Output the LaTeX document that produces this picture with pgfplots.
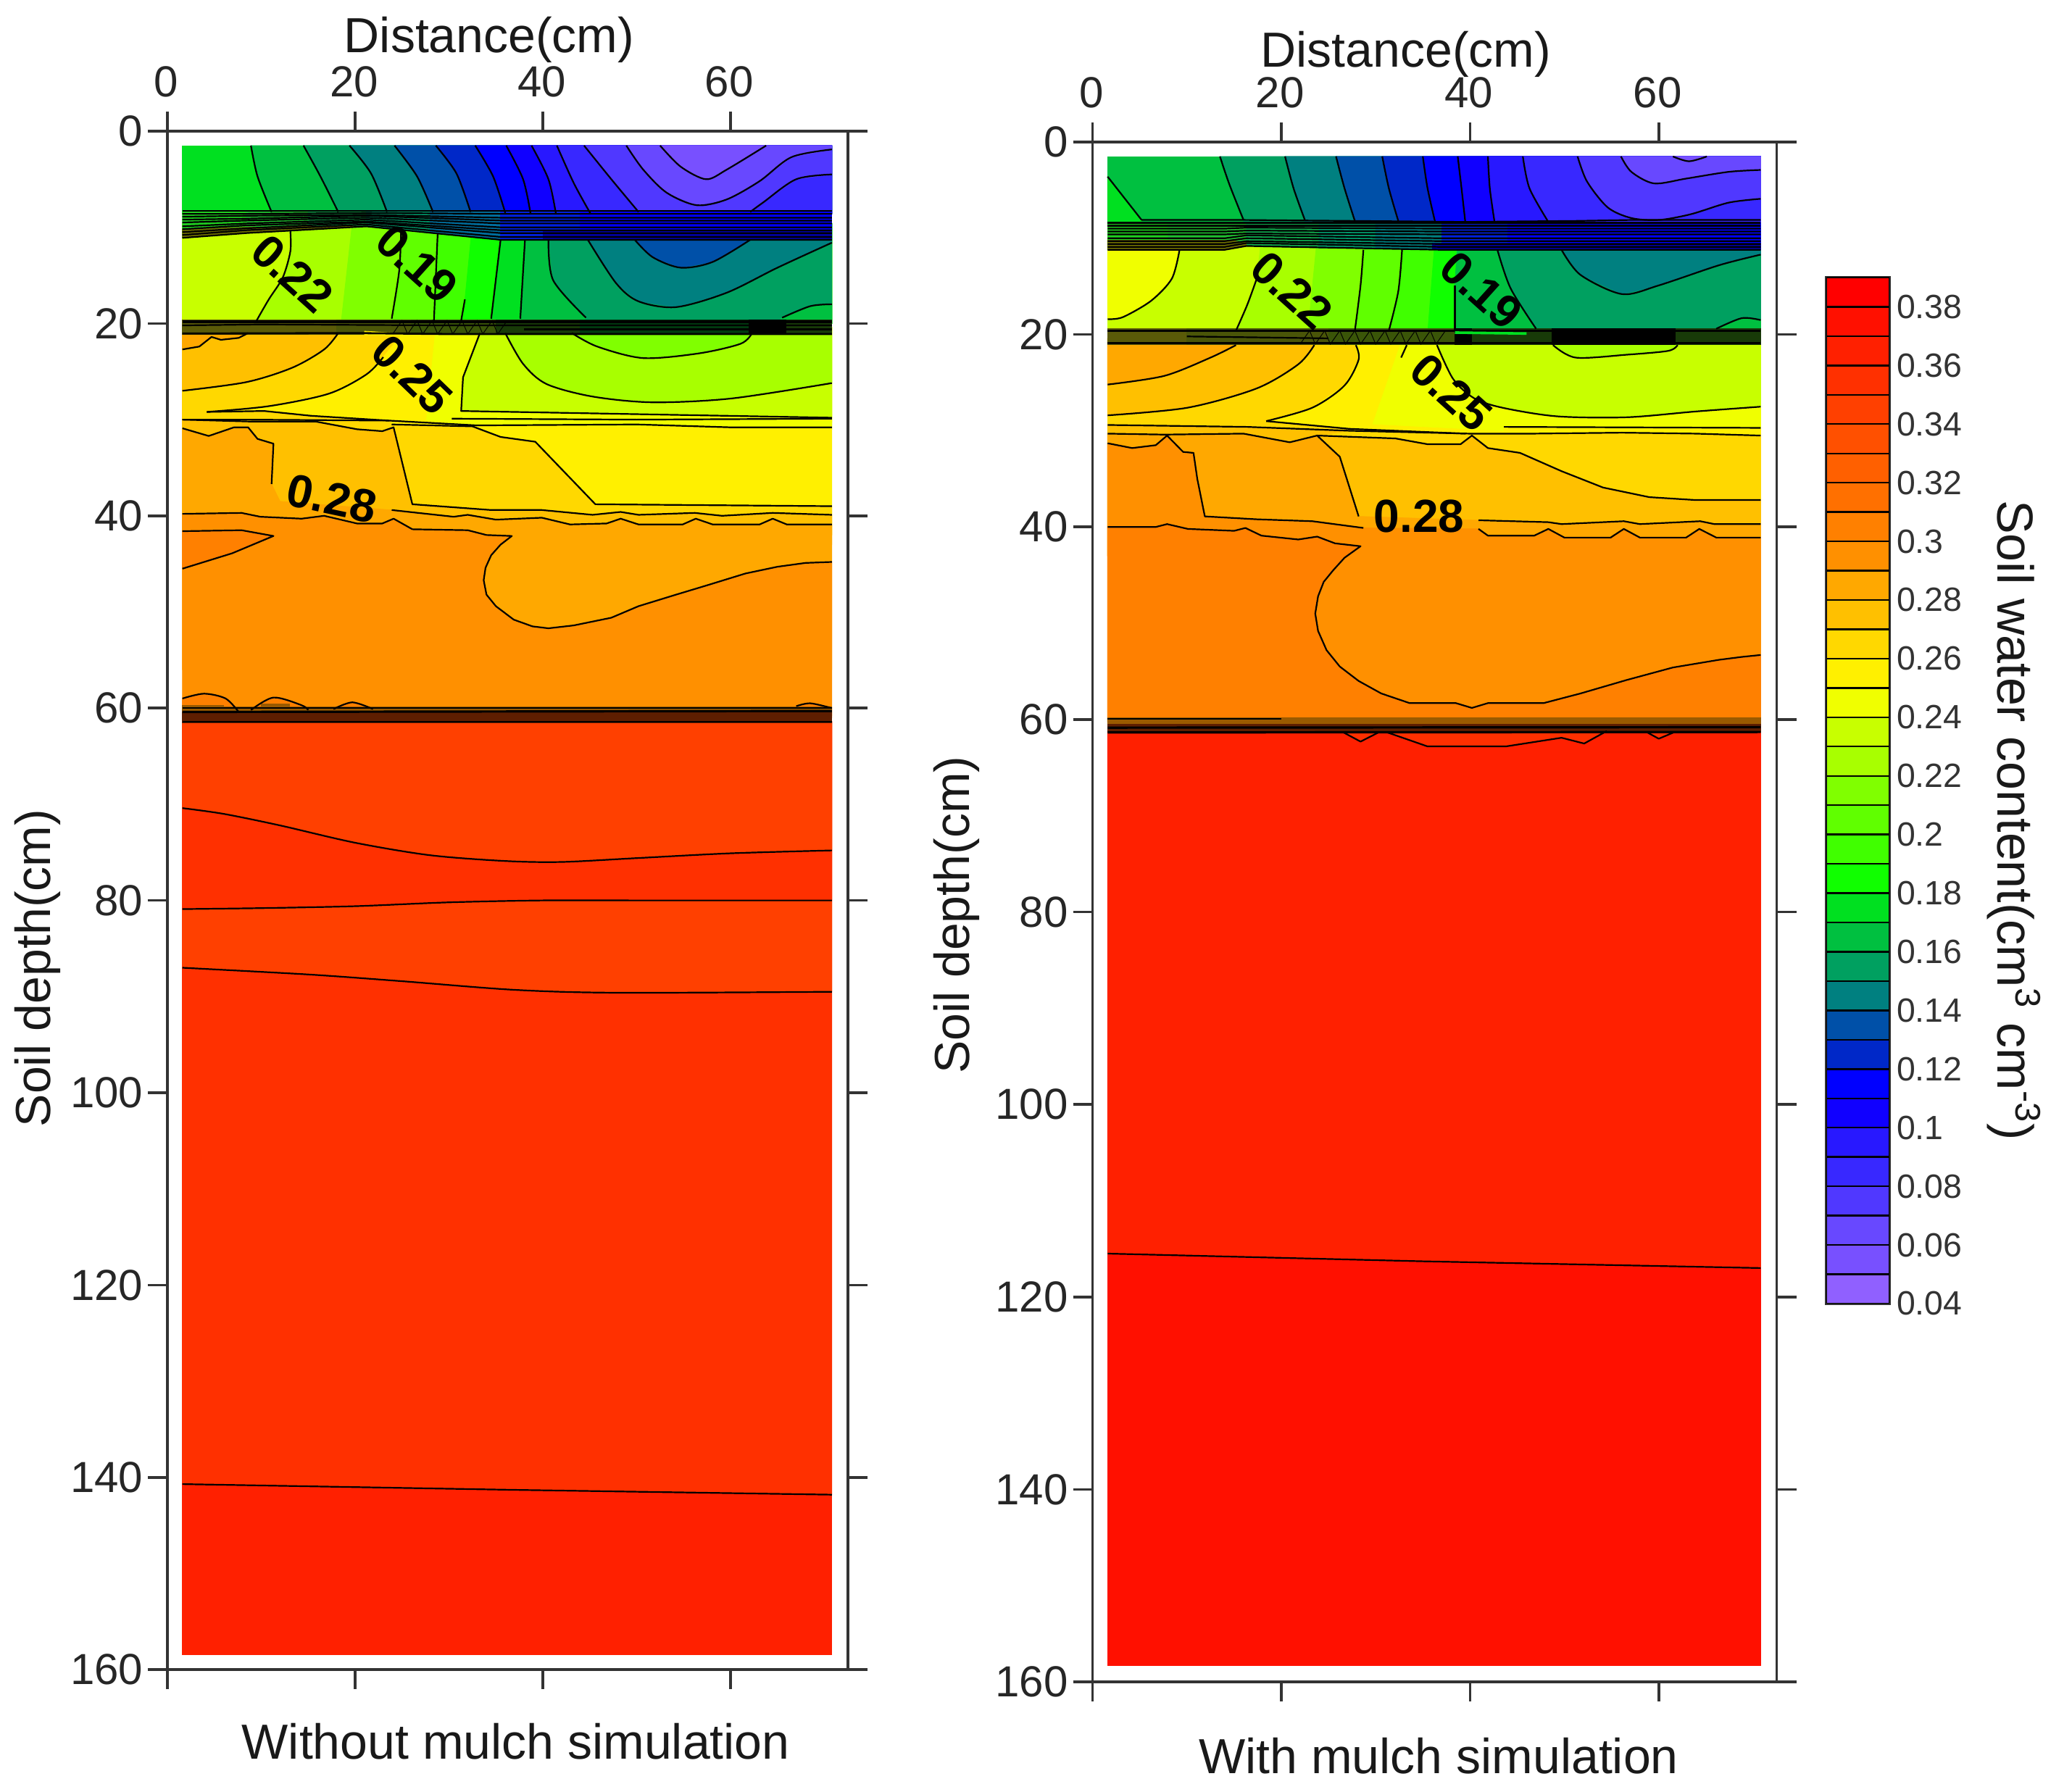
\documentclass[border=0pt]{standalone}
\usepackage{fontspec}
\setmainfont{Liberation Sans}
\usepackage{pgfplots}
\pgfplotsset{compat=1.18}

% filled band colours, named by lower bound of the class
\definecolor{ax}{HTML}{333333}
\definecolor{c38}{HTML}{FF0000}\definecolor{c37}{HTML}{FF1000}\definecolor{c36}{HTML}{FF2000}
\definecolor{c35}{HTML}{FF3000}\definecolor{c34}{HTML}{FF4000}\definecolor{c33}{HTML}{FF5000}
\definecolor{c32}{HTML}{FF6000}\definecolor{c31}{HTML}{FF7000}\definecolor{c30}{HTML}{FF8000}
\definecolor{c29}{HTML}{FF9000}\definecolor{c28}{HTML}{FFA800}\definecolor{c27}{HTML}{FFC000}
\definecolor{c26}{HTML}{FFD800}\definecolor{c25}{HTML}{FFF000}\definecolor{c24}{HTML}{F0FF00}
\definecolor{c23}{HTML}{C8FF00}\definecolor{c22}{HTML}{A8FF00}\definecolor{c21}{HTML}{80FF00}
\definecolor{c20}{HTML}{60FF00}\definecolor{c19}{HTML}{40FF00}\definecolor{c18}{HTML}{10FF00}
\definecolor{c17}{HTML}{00E020}\definecolor{c16}{HTML}{00C040}\definecolor{c15}{HTML}{00A060}
\definecolor{c14}{HTML}{008080}\definecolor{c13}{HTML}{0050A8}\definecolor{c12}{HTML}{0028C8}
\definecolor{c11}{HTML}{0000FF}\definecolor{c10}{HTML}{1000FF}\definecolor{c09}{HTML}{2818FF}
\definecolor{c08}{HTML}{3828FF}\definecolor{c07}{HTML}{5038FF}\definecolor{c06}{HTML}{6848FF}
\definecolor{c05}{HTML}{7850FF}\definecolor{c04}{HTML}{9060FF}
% the squeezed bands
\definecolor{ga}{HTML}{20D020}\definecolor{gb}{HTML}{20C030}\definecolor{gc}{HTML}{10B050}
\definecolor{gd}{HTML}{00A070}\definecolor{ge}{HTML}{0070A0}\definecolor{gf}{HTML}{0020E0}
\definecolor{gg}{HTML}{0000A0}\definecolor{ol}{HTML}{707000}
\definecolor{da}{HTML}{5A5A08}\definecolor{db}{HTML}{4A5508}\definecolor{dc}{HTML}{3A5508}
\definecolor{dd}{HTML}{183A08}\definecolor{de}{HTML}{003A10}\definecolor{df}{HTML}{000000}
\definecolor{ba}{HTML}{9A5A00}\definecolor{bb}{HTML}{5E1E00}

\newcommand\reg[2]{\edef\tmp{\noexpand\addplot[fill=#1,draw=#1,line width=.2pt] coordinates {#2} --cycle;}\tmp}
\newcommand\ctr[1]{\edef\tmp{\noexpand\addplot[cl] coordinates {#1};}\tmp}
\newcommand\cts[1]{\edef\tmp{\noexpand\addplot[cl,smooth,tension=.5] coordinates {#1};}\tmp}
\newcommand\cb[3]{\addplot[fill=#3,draw=black,line width=.6pt] coordinates {(0,#1)(1,#1)(1,#2)(0,#2)} --cycle;}
\newcommand\lab[4]{\node[rotate=#4,font=\fontsize{16}{18}\selectfont\bfseries,inner sep=0pt] at (axis cs:#1,#2) {#3};}

% ---- without mulch: contours (distance, depth)
\def\pAa{(8.9,1.5)(9.6,4.7)(11.1,8.4)}
\def\pAb{(14.5,1.5)(16.3,4.7)(18.2,8.4)}
\def\pAc{(19.4,1.5)(21.7,4.4)(23.4,8.4)}
\def\pAd{(24.2,1.5)(26.6,4.7)(28.3,8.4)}
\def\pAe{(28.6,1.5)(30.8,4.4)(32.3,8.4)}
\def\pAf{(32.8,1.5)(34.7,4.7)(36,8.5)}
\def\pAg{(36.1,1.5)(37.9,5)(38.7,8.6)}
\def\pAh{(38.8,1.5)(40.6,5)(41.4,8.6)}
\def\pAi{(41.5,1.5)(43.3,5.4)(45.1,8.6)}
\def\pAj{(44.4,1.5)(47.3,5)(50.2,8.4)}
\def\pAk{(48.9,1.5)(50.7,4)(53.2,6.4)(56.4,7.7)(59.6,7.1)(63.1,5.2)(66.5,2.7)(70.8,1.9)}
\def\pAl{(52.5,1.5)(54.7,3.7)(57.4,5)(59.6,4)(63.8,1.5)}
\def\pAm{(62.1,8.4)(63.5,7.4)(67,5)(70.8,4.5)}
\def\pBa{(13.1,10.4)(13.1,12.5)(12.3,15.2)(10.8,17.5)(9.5,19.7)}
\def\pBc{(24.9,10.3)(24.7,14.5)(23.9,19.5)}
\def\pBd{(28.8,10.6)(28.4,19.7)}
\def\pBe{(31.7,17.5)(31.3,19.7)}
\def\pBf{(35.5,11.3)(34.5,19.5)}
\def\pBg{(38.1,11.3)(37.6,19.5)}
\def\pBh{(40.6,11.3)(41.1,15.5)(44.6,19.4)}
\def\pBi{(44.8,11.3)(47.8,15.8)(50.2,17.7)(54.2,18.3)(59.6,16.8)(65,14.2)(70.8,11.6)}
\def\pBj{(49.8,11.3)(51.7,13.1)(54.7,14.2)(58.1,13.6)(62.1,11.3)}
\def\pBk{(70.8,18)(68.5,18.2)(65.5,19.4)}
\def\pCl{(1.6,22.7)(3.4,22.4)(4.7,21.4)(5.7,21.7)(7.6,21.5)(8.6,21)}
\def\pCm{(1.6,27)(8.4,26.1)(13.3,24.6)(16.7,22.7)(18.2,21)}
\def\pCn{(4.2,29.2)(10.8,28.6)(17.2,27.3)(21.2,25.3)(23,23.5)}
\def\pCp{(33.3,21)(31.5,25.6)(31.3,29.1)(70.8,29.8)}
\def\pCq{(36,21)(37.9,24.2)(40.4,26.3)(45.3,27.6)(51.7,28.2)(60.1,27.8)(70.8,26.2)}
\def\pCr{(43.1,21)(45.8,22.4)(50.7,23.6)(56.7,23.1)(61.1,22.1)(62.3,21)}
\def\pDt{(1.6,30)(8.4,30)(23.6,30.1)(33,30.6)(50,30.5)(60,30.8)(70.8,30.8)}
\def\pDu{(30.3,29.9)(50,30)(70.8,29.9)}
\def\pDv{(23.6,30.1)(15.3,29.6)(10.3,29.1)(4.2,29.2)}
\def\pDa{(1.6,30)(8.9,30.2)(15.8,30.2)(20.2,31)(22.9,31.2)(24.1,30.8)(26.1,38.8)(34.5,39.4)(39.9,39.4)(45.3,39.9)(48.3,39.6)(50.2,39.9)(56.2,39.7)(59.1,40)(64.5,39.7)(70.8,39.9)}
\def\pDb{(1.6,30.9)(4.4,31.7)(7.1,30.8)(8.6,30.8)(9.6,32)(11.3,32.5)(11.1,36.7)}
\def\pDc{(23.9,39.4)(30.5,40.1)(32,39.9)(35,40.4)(39.9,40.2)(42.9,40.9)(46.8,40.8)(48.3,40.3)(50.2,40.9)(54.9,40.9)(56.3,40.3)(58.1,40.9)(63.1,40.9)(64.5,40.3)(66,40.9)(70.8,40.9)}
\def\pDd{(23.9,30.5)(32.5,30.7)(35.5,31.8)(39.2,32.3)(45.6,38.8)(70.8,39)}
\def\pEa{(1.6,39.8)(7.9,39.7)(9.9,40.1)(14.3,40.3)(16.7,40)(20.2,40.8)(22.9,40.8)(24.1,40.3)(26.1,41.4)(32,41.5)(34,42)(36.7,42.1)(35.5,43)(34.5,44.1)(33.9,45.4)(33.7,46.7)(34,48.2)(35,49.4)(36.9,50.8)(38.9,51.5)(40.6,51.7)(43.3,51.4)(47.3,50.6)(50.2,49.4)(54.2,48.2)(57.6,47.2)(61.6,46)(65,45.3)(68,44.9)(70.8,44.8)}
\def\pEb{(1.6,41.6)(7.9,41.5)(11.3,42.1)(6.9,43.9)(1.6,45.5)}
\def\pFa{(1.6,59)(3.9,58.5)(6.2,59)(7.6,60.4)}
\def\pFb{(8.9,60.2)(11.3,58.9)(14.3,59.7)(15,60.2)}
\def\pFc{(17.7,60.1)(19.7,59.4)(21.9,60.1)}
\def\pFd{(67,59.8)(68.5,59.5)(70.8,60)}
\def\pGa{(1.6,70.4)(6,71)(12,72.2)(20,74)(28,75.3)(36,75.9)(42,76)(50,75.6)(60,75.1)(70.8,74.8)}
\def\pGb{(1.6,80.9)(10,80.8)(20,80.6)(30,80.2)(40,80)(50,80)(70.8,80)}
\def\pGc{(1.6,87)(15,87.7)(25,88.4)(37,89.3)(48,89.6)(70.8,89.5)}
\def\pGd{(1.6,140.7)(37,141.3)(70.8,141.8)}

% ---- with mulch: contours
\def\qAa{(1.6,3.6)(3.2,5.6)(5.2,8.1)}
\def\qAb{(13.5,1.5)(14.5,4.4)(16,8.1)}
\def\qAc{(20.4,1.5)(21.3,4.8)(22.5,8.1)}
\def\qAd{(25.8,1.5)(26.7,4.8)(27.8,8.2)}
\def\qAe{(30.7,1.5)(31.4,4.8)(32.4,8.2)}
\def\qAf{(35,1.5)(35.5,4.8)(36.3,8.3)}
\def\qAg{(38.7,1.5)(39.1,4.8)(39.5,8.3)}
\def\qAh{(41.9,1.5)(42.1,4.8)(42.6,8.3)}
\def\qAi{(45.6,1.5)(46.3,4.8)(48.3,8.3)}
\def\qAj{(51.4,1.5)(52.4,4.1)(54.6,6.8)(57.1,7.9)(60,8.1)(63.4,7.5)(67.4,6.3)(70.8,5.9)}
\def\qAk{(56,1.5)(57.1,3.1)(59.5,4.3)(62.9,3.8)(67.4,3.1)(70.8,2.9)}
\def\qAl{(61.5,1.5)(63.2,2)(65.1,1.5)}
\def\qBa{(1.6,18.4)(3.2,18.2)(6.2,16.5)(8.4,14.2)(9.2,11.3)}
\def\qBb{(17.4,14.2)(16.4,16.9)(15.2,19.6)}
\def\qBd{(28.7,11.2)(28.4,14.9)(27.8,19.6)}
\def\qBe{(32.8,11.2)(32.4,15.5)(31.4,19.6)}
\def\qBg{(38.4,14.9)(38.4,19.6)}
\def\qBh{(42.9,11.2)(44.3,15.2)(47,19.4)}
\def\qBi{(49.7,11.2)(51.7,13.8)(56.1,15.8)(60,14.9)(66.4,12.8)(70.8,11.7)}
\def\qBj{(70.8,18.5)(68.8,18.3)(66.1,19.4)}
\def\qCa{(1.6,25.2)(7.6,24.3)(12.5,22.4)(15.2,21.1)}
\def\qCb{(1.6,28.4)(10.1,27.6)(17.4,25.6)(21.8,23.1)(23.5,21.1)}
\def\qCc{(18.4,29)(23.3,27.6)(26.7,25.3)(28.2,22.6)(27.9,21.1)}
\def\qCd{(33.3,21.1)(32.7,22.4)}
\def\qCe{(36.5,21.1)(38.2,24.6)(40.4,26.6)(43.4,27.6)(49.2,28.5)(56.6,28.6)(63.9,28)(70.8,27.5)}
\def\qCf{(48.8,21.1)(51.2,22.4)(56.6,22.1)(61,21.7)(62,21.1)}
\def\qDa{(43.6,29.6)(70.8,29.7)}
\def\qDb{(1.6,29.4)(16.4,29.6)(27.2,30)(39.9,30.3)(46.8,30.3)(56.1,30.2)(63.9,30.3)(70.8,30.5)}
\def\qDc{(18.4,29)(27.2,29.8)(39.5,30.3)}
\def\qDd{(1.6,30.3)(7.6,30.4)(16,30.3)(20.9,31.2)(23.8,30.5)(26.2,32.7)(28.2,38.9)}
\def\qDe{(23.8,30.5)(32.1,30.8)(35.5,31.4)(39,31.4)(40.2,30.5)(41.9,31.8)(45.3,32.3)(49.7,34.2)(54.1,35.9)(59,36.9)(63.9,37.2)(70.8,37.2)}
\def\qDf{(1.6,31.3)(4.2,31.8)(6.7,31.5)(7.9,30.5)(9.6,32.2)(10.7,32.3)(11.1,35)(11.9,38.9)(17.4,39.2)(23.3,39.4)(28.7,40.1)}
\def\qDg{(40.9,39.3)(48.3,39.5)(49.7,39.7)(56.3,39.4)(58,39.7)(64.4,39.4)(65.9,39.7)(70.8,39.7)}
\def\qDh{(40.9,40.2)(41.9,40.9)(46.8,40.9)(48.3,40.2)(50,41.1)(54.9,41.1)(56.3,40.2)(58,41.1)(62.9,41.1)(64.3,40.2)(66.1,41.1)(70.8,41.1)}
\def\qEa{(1.6,40)(6.7,40)(7.9,39.7)(10.1,40.2)(15,40.4)(16.2,40.1)(17.9,40.9)(21.8,41.3)(23.8,41)(25.7,41.7)(28.4,42)(26.7,43.2)(25.5,44.5)(24.5,45.7)(23.9,47.2)(23.6,49)(23.9,50.8)(24.8,52.8)(26.2,54.5)(28.2,56)(30.6,57.3)(33.6,58.3)(38.5,58.3)(40.2,58.8)(41.9,58.3)(47.8,58.3)(51.7,57.3)(56.6,55.9)(61.5,54.6)(66.4,53.8)(68.8,53.5)(70.8,53.3)}
\def\qFa{(26.5,61.3)(28.4,62.3)(30.4,61.3)}
\def\qFb{(31.1,61.3)(35.5,62.8)(43.8,62.8)(49.7,61.9)(52.1,62.5)(54.5,61.2)}
\def\qFc{(58.7,61.3)(60,62)(61.7,61.3)}
\def\qGa{(1.6,115.5)(35,116.3)(70.8,117)}

\pgfplotsset{
  cl/.style={draw=black,line width=.55pt,line join=round,forget plot},
  tl/.style={draw=black,line width=.55pt,forget plot},
  panel/.style={
    scale only axis, clip=true,
    xmin=0, xmax=72.5, ymin=0, ymax=160, y dir=reverse,
    xtick={0,20,40,60}, ytick={0,20,...,160},
    xtick pos=both, ytick pos=both,
    xticklabel pos=upper, yticklabel pos=left,
    tick align=outside, major tick length=6.75pt,
    axis line style={color=ax,line width=.9pt},
    every tick/.style={color=ax,line width=.9pt},
    ticklabel style={font=\fontsize{15}{18}\selectfont,text=black!85,inner sep=1.5pt},
    xticklabel style={yshift=3.2pt,xshift=-.4pt},
    /pgf/number format/assume math mode=true,
    label style={font=\fontsize{17}{20}\selectfont,text=black!90},
    title style={font=\fontsize{17}{20}\selectfont,text=black!90,anchor=base},
  },
}

\begin{document}
\begin{tikzpicture}
\path[use as bounding box] (0,0) rectangle (707.5pt,618.25pt);

% ===== without mulch
\begin{axis}[panel, at={(57.75pt,573pt)}, anchor=north west, width=234.7pt, height=530.8pt,
  xlabel={Distance(cm)}, xlabel style={at={(axis description cs:.473,1.0513)},anchor=base},
  ylabel={Soil depth(cm)}, ylabel style={at={(axis description cs:-.1725,.456)},anchor=base},
  title={Without mulch simulation}, title style={at={(axis description cs:.512,-.0695)}}]
% surface layer
\reg{c17}{(1.6,1.5)(70.8,1.5)(70.8,8.6)(1.6,8.6)}
\reg{c16}{\pAa(70.8,8.6)(70.8,1.5)}
\reg{c15}{\pAb(70.8,8.6)(70.8,1.5)}
\reg{c14}{\pAc(70.8,8.6)(70.8,1.5)}
\reg{c13}{\pAd(70.8,8.6)(70.8,1.5)}
\reg{c12}{\pAe(70.8,8.6)(70.8,1.5)}
\reg{c11}{\pAf(70.8,8.6)(70.8,1.5)}
\reg{c10}{\pAg(70.8,8.6)(70.8,1.5)}
\reg{c09}{\pAh(70.8,8.6)(70.8,1.5)}
\reg{c08}{\pAi(70.8,8.6)(70.8,1.5)}
\reg{c07}{\pAj\pAm(70.8,1.5)}
\reg{c06}{\pAk(70.8,1.5)}
\reg{c05}{\pAl}
% second layer
\reg{c23}{(1.6,9.6)(70.8,9.6)(70.8,20)(1.6,20)}
\reg{c22}{(13.1,9.6)\pBa(9.5,20)(70.8,20)(70.8,9.6)}
\reg{c21}{(19.7,9.6)(18.5,20)(70.8,20)(70.8,9.6)}
\reg{c20}{(24.9,9.6)\pBc(23.9,20)(70.8,20)(70.8,9.6)}
\reg{c19}{(28.8,9.6)\pBd(28.4,20)(70.8,20)(70.8,9.6)}
\reg{c18}{(32.5,9.6)(31.7,17.5)\pBe(31.3,20)(70.8,20)(70.8,9.6)}
\reg{c17}{(35.5,9.6)\pBf(34.5,20)(70.8,20)(70.8,9.6)}
\reg{c16}{(38.1,9.6)\pBg(37.6,20)(70.8,20)(70.8,9.6)}
\reg{c15}{(40.6,9.6)\pBh(44.6,20)(70.8,20)(70.8,9.6)}
\reg{c14}{(44.8,9.6)\pBi(70.8,9.6)}
\reg{c13}{(49.8,9.6)\pBj(62.1,9.6)}
\reg{c16}{\pBk(65,20)(70.8,20)}
% third layer
\reg{c27}{(1.6,20.4)(70.8,20.4)(70.8,31)(1.6,31)}
\reg{c28}{(1.6,20.4)\pCl(8.6,20.4)}
\reg{c26}{\pCm(18.2,20.4)(70.8,20.4)(70.8,31)(1.6,31)}
\reg{c25}{\pCn(25.1,21)(25.1,20.4)(70.8,20.4)(70.8,30.3)(33,30.6)\pDv}
\reg{c24}{(28.6,20.4)(27.6,30.1)(33,30.6)(70.8,30.8)(70.8,20.4)}
\reg{c23}{(33.3,20.4)\pCp(70.8,20.4)}
\reg{c22}{(36,20.4)\pCq(70.8,20.4)}
\reg{c21}{\pCr}
% fourth layer
\reg{c25}{(23.9,30.3)(33,30.6)(70.8,30.8)(70.8,42)(23.9,42)}
\reg{c26}{(1.6,30)(8.4,30)(23.6,30.1)\pDd(70.8,42)(1.6,42)}
\reg{c27}{\pDa(70.8,43)(1.6,43)}
\reg{c28}{\pDb(12,38.5)\pDc(70.8,56)(1.6,56)}
\reg{c29}{\pEa(70.8,60.8)(1.6,60.8)}
\reg{c30}{\pEb}
\reg{c30}{\pFa(7.6,61)(1.6,61)}
\reg{c30}{\pFb(15,61)(8.9,61)}
\reg{c30}{\pFc(21.9,61)(17.7,61)}
\reg{c30}{\pFd(70.8,61)(67,61)}
% deep soil
\reg{c36}{(1.6,61.4)(70.8,61.4)(70.8,158.4)(1.6,158.4)}
\reg{c35}{(1.6,61.4)\pGd(70.8,61.4)}
\reg{c34}{(1.6,61.4)\pGc(70.8,61.4)}
\reg{c35}{(1.6,61.4)\pGb(70.8,61.4)}
\reg{c34}{(1.6,61.4)\pGa(70.8,61.4)}
% squeezed band near 10 cm
\reg{ga}{(1.6,8.3)(8.4,8.3)(8.4,10.6)(1.6,11.1)}
\reg{gb}{(8.4,8.3)(15,8.3)(15,10.25)(8.4,10.6)}
\reg{gc}{(15,8.3)(21.2,8.3)(21.2,9.9)(15,10.25)}
\reg{gd}{(21.2,8.3)(28,8.3)(28,10.6)(21.2,9.9)}
\reg{ge}{(28,8.3)(35.5,8.3)(35.5,11.3)(28,10.6)}
\reg{gf}{(35.5,8.3)(44,8.3)(44,11.3)(35.5,11.3)}
\reg{c11}{(44,8.3)(70.8,8.3)(70.8,11.3)(44,11.3)}
\reg{ol}{(1.6,10.2)(8.4,10)(15,9.9)(21.2,9.9)(15,10.25)(8.4,10.6)(1.6,11.1)}
\reg{gg}{(40,10.4)(70.8,10.4)(70.8,11.3)(40,11.3)}
\addplot[tl] coordinates {(1.6,8.3)(8.4,8.3)(21.2,8.3)(35.5,8.3)(70.8,8.3)};
\addplot[tl] coordinates {(1.6,8.6)(8.4,8.6)(21.2,8.5)(35.5,8.6)(70.8,8.6)};
\addplot[tl] coordinates {(1.6,8.9)(8.4,8.8)(21.2,8.7)(35.5,9)(70.8,9)};
\addplot[tl] coordinates {(1.6,9.2)(8.4,9.1)(21.2,8.8)(35.5,9.3)(70.8,9.3)};
\addplot[tl] coordinates {(1.6,9.5)(8.4,9.3)(21.2,9)(35.5,9.6)(70.8,9.6)};
\addplot[tl] coordinates {(1.6,9.9)(8.4,9.6)(21.2,9.2)(35.5,10)(70.8,10)};
\addplot[tl] coordinates {(1.6,10.2)(8.4,9.8)(21.2,9.4)(35.5,10.3)(70.8,10.3)};
\addplot[tl] coordinates {(1.6,10.5)(8.4,10.1)(21.2,9.5)(35.5,10.6)(70.8,10.6)};
\addplot[tl] coordinates {(1.6,10.8)(8.4,10.3)(21.2,9.7)(35.5,11)(70.8,11)};
\addplot[tl] coordinates {(1.6,11.1)(8.4,10.6)(21.2,9.9)(35.5,11.3)(70.8,11.3)};
% squeezed band near 20 cm
\reg{da}{(1.6,19.65)(18,19.65)(18,21.15)(1.6,21.15)}
\reg{db}{(18,19.65)(26,19.65)(26,21.15)(18,21.15)}
\reg{dc}{(26,19.65)(35,19.65)(35,21.15)(26,21.15)}
\reg{dd}{(35,19.65)(44,19.65)(44,21.15)(35,21.15)}
\reg{de}{(44,19.65)(62,19.65)(62,21.15)(44,21.15)}
\reg{df}{(62,19.65)(66,19.65)(66,21.15)(62,21.15)}
\reg{dd}{(66,19.65)(70.8,19.65)(70.8,21.15)(66,21.15)}
\reg{c25}{(21,20.8)(26,21.1)(26,21.3)(21,21.2)}
\addplot[draw=black,line width=.9pt,forget plot] coordinates {(1.6,19.8)(70.8,19.8)};
\addplot[tl] coordinates {(1.6,20.2)(10,20.1)(30,20.2)(70.8,20.2)};
\addplot[draw=black,line width=.7pt,forget plot] coordinates {(38,20.6)(70.8,20.6)};
\addplot[draw=black,line width=.7pt,forget plot] coordinates {(1.6,21.05)(20,21)(30,21.1)(70.8,21.1)};
\addplot[draw=black,line width=.25pt,forget plot] coordinates {(24,21.1)(25,19.7)(25.6,21.1)(26.6,19.7)(27.2,21.1)(28.2,19.7)(28.8,21.1)(29.8,19.7)(30.4,21.1)(31.4,19.7)(32,21.1)(33,19.7)(33.6,21.1)(34.6,19.7)(35.2,21.1)(36.2,19.7)};
% squeezed band near 60 cm
\reg{ba}{(1.6,59.9)(70.8,59.9)(70.8,60.4)(1.6,60.4)}
\reg{bb}{(1.6,60.4)(70.8,60.4)(70.8,61.5)(1.6,61.5)}
\reg{ba}{(1.6,59.7)(6,59.7)(6,60.4)(1.6,60.4)}
\reg{ba}{(10,59.6)(13,59.6)(13,60.4)(10,60.4)}
\addplot[draw=black,line width=.8pt,forget plot] coordinates {(1.6,60.4)(70.8,60.3)};
\addplot[tl] coordinates {(1.6,60)(70.8,60)};
\addplot[tl] coordinates {(1.6,61.4)(70.8,61.4)};
% contours
\cts{\pAa}\cts{\pAb}\cts{\pAc}\cts{\pAd}\cts{\pAe}\cts{\pAf}\cts{\pAg}\cts{\pAh}\cts{\pAi}\cts{\pAj}\cts{\pAk}\cts{\pAl}\cts{\pAm}
\cts{\pBa}\cts{\pBc}\ctr{\pBd}\ctr{\pBe}\ctr{\pBf}\ctr{\pBg}\cts{\pBh}\cts{\pBi}\cts{\pBj}\cts{\pBk}
\ctr{\pCl}\cts{\pCm}\cts{\pCn}\ctr{\pCp}\cts{\pCq}\cts{\pCr}
\ctr{\pDt}\ctr{\pDu}\ctr{\pDv}\ctr{\pDa}\ctr{\pDb}\ctr{\pDc}\ctr{\pDd}
\ctr{\pEa}\ctr{\pEb}\cts{\pFa}\cts{\pFb}\cts{\pFc}\cts{\pFd}
\cts{\pGa}\cts{\pGb}\cts{\pGc}\ctr{\pGd}
\lab{13.3}{14.8}{0.22}{-42}
\lab{26.6}{13.8}{0.19}{-42}
\lab{26.1}{25.3}{0.25}{-44}
\lab{17.5}{38.2}{0.28}{-12}
\end{axis}

% ===== with mulch
\begin{axis}[panel, at={(376.875pt,569.25pt)}, anchor=north west, width=236pt, height=531.25pt,
  xlabel={Distance(cm)}, xlabel style={at={(axis description cs:.458,1.0489)},anchor=base},
  ylabel={Soil depth(cm)}, ylabel style={at={(axis description cs:-.18,.498)},anchor=base},
  title={With mulch simulation}, title style={at={(axis description cs:.506,-.0706)}}]
% surface layer
\reg{c16}{(1.6,1.5)(70.8,1.5)(70.8,8.6)(1.6,8.6)}
\reg{c17}{(1.6,3.6)(3.2,5.6)(5.2,8.1)(5.2,8.6)(1.6,8.6)}
\reg{c15}{\qAb(16,8.6)(70.8,8.6)(70.8,1.5)}
\reg{c14}{\qAc(22.5,8.6)(70.8,8.6)(70.8,1.5)}
\reg{c13}{\qAd(27.8,8.6)(70.8,8.6)(70.8,1.5)}
\reg{c12}{\qAe(32.4,8.6)(70.8,8.6)(70.8,1.5)}
\reg{c11}{\qAf(36.3,8.6)(70.8,8.6)(70.8,1.5)}
\reg{c10}{\qAg(39.5,8.6)(70.8,8.6)(70.8,1.5)}
\reg{c09}{\qAh(42.6,8.6)(70.8,8.6)(70.8,1.5)}
\reg{c08}{\qAi(48.3,8.6)(70.8,8.6)(70.8,1.5)}
\reg{c07}{\qAj(70.8,1.5)}
\reg{c06}{\qAk(70.8,1.5)}
\reg{c05}{\qAl}
% second layer
\reg{c23}{(1.6,10)(70.8,10)(70.8,20)(1.6,20)}
\reg{c24}{\qBa(9.2,10)(1.6,10)}
\reg{c22}{(17.9,10)(17.4,14.2)(16.4,16.9)(15.2,19.6)(15.2,20)(70.8,20)(70.8,10)}
\reg{c21}{(23.8,10)(22.8,20)(70.8,20)(70.8,10)}
\reg{c20}{(28.7,10)\qBd(27.8,20)(70.8,20)(70.8,10)}
\reg{c19}{(32.8,10)\qBe(31.4,20)(70.8,20)(70.8,10)}
\reg{c18}{(36.3,10)(35.5,20)(70.8,20)(70.8,10)}
\reg{c16}{(38.7,10)(38.4,14.9)(38.4,20)(70.8,20)(70.8,10)}
\reg{c15}{(42.9,10)\qBh(47,20)(70.8,20)(70.8,10)}
\reg{c14}{(49.7,10)\qBi(70.8,10)}
\reg{c16}{\qBj(65,20)(70.8,20)}
% third layer
\reg{c26}{(1.6,20.4)(70.8,20.4)(70.8,31)(1.6,31)}
\reg{c27}{(1.6,20.4)\qCb(23.5,20.4)}
\reg{c28}{(1.6,20.4)\qCa(15.2,20.4)}
\reg{c25}{\qCc(27.9,20.4)(70.8,20.4)(70.8,30.5)(39.5,30.3)(27.2,29.8)}
\reg{c24}{(32.6,20.4)(32.6,21.1)(29.7,29.3)(43.6,30)(70.8,30)(70.8,20.4)}
\reg{c23}{(36.5,20.4)\qCe(70.8,20.4)}
\reg{c22}{\qCf}
\reg{c25}{(43.6,29.6)(70.8,29.7)(70.8,31)(43.6,31)}
% fourth layer
\reg{c26}{(27.2,30)(39.9,30.3)(46.8,30.3)(56.1,30.2)(63.9,30.3)(70.8,30.5)(70.8,43)(27.2,43)}
\reg{c27}{(1.6,29.4)(16.4,29.6)(27.2,30)\qDe(70.8,43)(1.6,43)}
\reg{c28}{\qDd\qDg(70.8,43)(1.6,43)}
\reg{c29}{\qDf\qDh(70.8,60.2)(1.6,60.2)}
\reg{c30}{\qEa(70.8,60.4)(1.6,60.4)}
% deep soil
\reg{c37}{(1.6,61.2)(70.8,61.2)(70.8,158.3)(1.6,158.3)}
\reg{c36}{(1.6,61.2)\qGa(70.8,61.2)}
\reg{c35}{\qFa}
\reg{c35}{\qFb}
\reg{c35}{\qFc}
% squeezed band near 10 cm
\reg{ga}{(1.6,8.4)(8,8.4)(8,11.2)(1.6,11.2)}
\reg{gb}{(8,8.4)(16.3,8.4)(16.3,10.8)(14,11.2)(8,11.2)}
\reg{gc}{(16.3,8.4)(24,8.4)(24,11)(16.3,10.8)}
\reg{gd}{(24,8.4)(30,8.4)(30,11.05)(24,11)}
\reg{c14}{(30,8.4)(37,8.4)(37,11.2)(30,11.05)}
\reg{gf}{(37,8.4)(44,8.4)(44,11.2)(37,11.2)}
\reg{c11}{(44,8.4)(70.8,8.4)(70.8,11.2)(44,11.2)}
\reg{ol}{(1.6,10.2)(14,10.2)(16.3,10.4)(16.3,10.8)(14,11.2)(1.6,11.2)}
\reg{gg}{(36,10.5)(70.8,10.5)(70.8,11.2)(36,11.2)}
\addplot[tl] coordinates {(5.2,8.1)(16,8.1)(27.8,8.2)(39.5,8.3)(51,8.2)(57,8.1)(70.8,8.1)};
\addplot[tl] coordinates {(1.6,8.4)(70.8,8.4)};
\addplot[tl] coordinates {(1.6,8.7)(70.8,8.7)};
\addplot[tl] coordinates {(1.6,9)(14,9)(16.3,8.9)(37,9)(70.8,9)};
\addplot[tl] coordinates {(1.6,9.3)(14,9.3)(16.3,9.2)(37,9.3)(70.8,9.3)};
\addplot[tl] coordinates {(1.6,9.6)(14,9.6)(16.3,9.5)(37,9.6)(70.8,9.6)};
\addplot[tl] coordinates {(1.6,10)(14,10)(16.3,9.7)(37,10)(70.8,10)};
\addplot[tl] coordinates {(1.6,10.3)(14,10.3)(16.3,10)(37,10.3)(70.8,10.3)};
\addplot[tl] coordinates {(1.6,10.6)(14,10.6)(16.3,10.3)(37,10.6)(70.8,10.6)};
\addplot[tl] coordinates {(1.6,10.9)(14,10.9)(16.3,10.5)(37,10.9)(70.8,10.9)};
\addplot[tl] coordinates {(1.6,11.2)(14,11.2)(16.3,10.8)(37,11.2)(70.8,11.2)};
% squeezed band near 20 cm
\reg{da}{(1.6,19.4)(10,19.4)(10,21.05)(1.6,21.05)}
\reg{db}{(10,19.4)(25,19.4)(25,21.05)(10,21.05)}
\reg{dc}{(25,19.4)(38.4,19.4)(38.4,21.05)(25,21.05)}
\reg{df}{(38.4,19.4)(40.2,19.4)(40.2,21.05)(38.4,21.05)}
\reg{dd}{(40.2,19.4)(48.7,19.4)(48.7,21.05)(40.2,21.05)}
\reg{df}{(48.7,19.4)(61.8,19.4)(61.8,21.05)(48.7,21.05)}
\reg{dd}{(61.8,19.4)(70.8,19.4)(70.8,21.05)(61.8,21.05)}
\addplot[draw=black,line width=.7pt,forget plot] coordinates {(1.6,19.6)(25,19.6)(70.8,19.6)};
\addplot[draw=c17,line width=.9pt,forget plot] coordinates {(38.4,19.8)(46,19.9)};
\addplot[tl] coordinates {(1.6,20.9)(70.8,20.9)};
\addplot[tl] coordinates {(10,20.2)(25,20.4)};
\addplot[draw=black,line width=.25pt,forget plot] coordinates {(22,21)(23,19.6)(23.6,21)(24.6,19.6)(25.2,21)(26.2,19.6)(26.8,21)(27.8,19.6)(28.4,21)(29.4,19.6)(30,21)(31,19.6)(31.6,21)(32.6,19.6)(33.2,21)(34.2,19.6)(34.8,21)(35.8,19.6)(36.4,21)(37.4,19.6)};
% squeezed band near 60 cm
\reg{ba}{(1.6,59.8)(70.8,59.8)(70.8,60.7)(1.6,60.7)}
\reg{bb}{(1.6,60.5)(70.8,60.5)(70.8,61.3)(1.6,61.3)}
\addplot[tl] coordinates {(1.6,59.95)(20,59.95)};
\addplot[draw=black,line width=.8pt,forget plot] coordinates {(1.6,60.85)(70.8,60.8)};
\addplot[draw=black,line width=.8pt,forget plot] coordinates {(1.6,61.35)(70.8,61.3)};
% contours
\cts{\qAa}\cts{\qAb}\cts{\qAc}\cts{\qAd}\cts{\qAe}\cts{\qAf}\cts{\qAg}\cts{\qAh}\cts{\qAi}\cts{\qAj}\cts{\qAk}\cts{\qAl}
\cts{\qBa}\cts{\qBb}\cts{\qBd}\cts{\qBe}\ctr{\qBg}\cts{\qBh}\cts{\qBi}\cts{\qBj}
\cts{\qCa}\cts{\qCb}\cts{\qCc}\ctr{\qCd}\cts{\qCe}\cts{\qCf}
\ctr{\qDa}\ctr{\qDb}\ctr{\qDc}\ctr{\qDd}\ctr{\qDe}\ctr{\qDf}\ctr{\qDg}\ctr{\qDh}
\ctr{\qEa}\ctr{\qFa}\ctr{\qFb}\ctr{\qFc}\ctr{\qGa}
\lab{21.1}{15.4}{0.22}{-42}
\lab{41.2}{15.4}{0.19}{-42}
\lab{38}{26}{0.25}{-42}
\lab{34.6}{38.9}{0.28}{0}
\end{axis}

% ===== colour scale
\begin{axis}[scale only axis, at={(630pt,522.5pt)}, anchor=north west, width=21.75pt, height=354pt,
  xmin=0, xmax=1, ymin=0.04, ymax=0.39, xtick=\empty,
  ytick={0.04,0.06,0.08,0.1,0.12,0.14,0.16,0.18,0.2,0.22,0.24,0.26,0.28,0.3,0.32,0.34,0.36,0.38},
  yticklabels={0.04,0.06,0.08,0.1,0.12,0.14,0.16,0.18,0.2,0.22,0.24,0.26,0.28,0.3,0.32,0.34,0.36,0.38},
  yticklabel pos=right, major tick length=0pt,
  axis line style={color=ax,line width=.8pt},
  yticklabel style={font=\fontsize{11.6}{14}\selectfont,text=black!80,inner sep=2.3pt,anchor=west},
  ylabel={Soil water content(cm\textsuperscript{3} cm\textsuperscript{-3})},
  ylabel style={font=\fontsize{17.5}{20}\selectfont,text=black!90,at={(axis description cs:2.97,.471)},rotate=180,anchor=center}]
\cb{0.04}{0.05}{c04}\cb{0.05}{0.06}{c05}\cb{0.06}{0.07}{c06}\cb{0.07}{0.08}{c07}
\cb{0.08}{0.09}{c08}\cb{0.09}{0.10}{c09}\cb{0.10}{0.11}{c10}\cb{0.11}{0.12}{c11}
\cb{0.12}{0.13}{c12}\cb{0.13}{0.14}{c13}\cb{0.14}{0.15}{c14}\cb{0.15}{0.16}{c15}
\cb{0.16}{0.17}{c16}\cb{0.17}{0.18}{c17}\cb{0.18}{0.19}{c18}\cb{0.19}{0.20}{c19}
\cb{0.20}{0.21}{c20}\cb{0.21}{0.22}{c21}\cb{0.22}{0.23}{c22}\cb{0.23}{0.24}{c23}
\cb{0.24}{0.25}{c24}\cb{0.25}{0.26}{c25}\cb{0.26}{0.27}{c26}\cb{0.27}{0.28}{c27}
\cb{0.28}{0.29}{c28}\cb{0.29}{0.30}{c29}\cb{0.30}{0.31}{c30}\cb{0.31}{0.32}{c31}
\cb{0.32}{0.33}{c32}\cb{0.33}{0.34}{c33}\cb{0.34}{0.35}{c34}\cb{0.35}{0.36}{c35}
\cb{0.36}{0.37}{c36}\cb{0.37}{0.38}{c37}\cb{0.38}{0.39}{c38}
\end{axis}
\end{tikzpicture}
\end{document}
